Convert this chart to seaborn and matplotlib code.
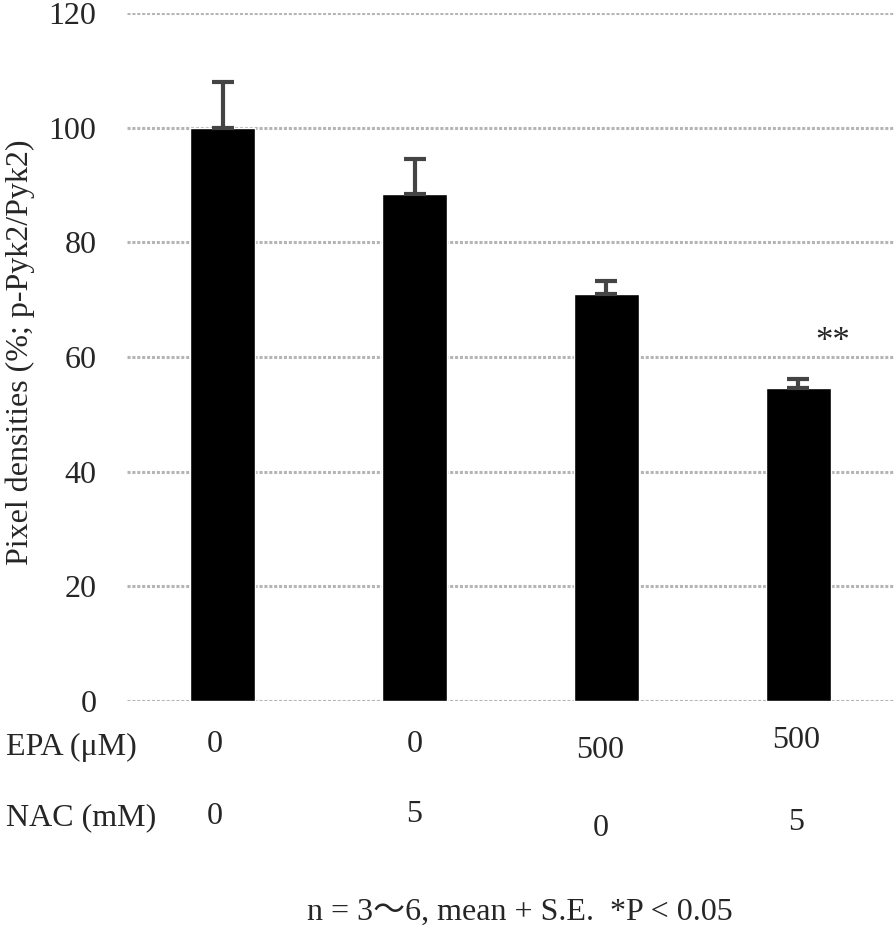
import matplotlib
matplotlib.use("Agg")
import matplotlib.pyplot as plt
import matplotlib.transforms as mtransforms
import seaborn as sns
import pandas as pd

groups = ["G1", "G2", "G3", "G4"]
means = [100.0, 88.5, 71.0, 54.6]
errors = [8.0, 6.1, 2.2, 1.6]
epa_labels = ["0", "0", "500", "500"]
nac_labels = ["0", "5", "0", "5"]
yticks = [0, 20, 40, 60, 80, 100, 120]

sns.set_style("white")
plt.rcParams["font.family"] = ["Liberation Serif", "DejaVu Serif"]
FS = 23

W, H = 894, 932
fig = plt.figure(figsize=(W / 100, H / 100), dpi=100)
ax = fig.add_axes([127 / W, (H - 701) / H, (894 - 127) / W, 688 / H])

df = pd.DataFrame({"group": groups, "mean": means})
sns.barplot(data=df, x="group", y="mean", color="black", width=0.34,
            errorbar=None, ax=ax, saturation=1, zorder=3)
ax.errorbar(range(len(groups)), means, yerr=[[0] * len(errors), errors],
            fmt="none", ecolor="#444444", elinewidth=3, capsize=8,
            capthick=3, zorder=4)

ax.set_ylim(0, 120)
ax.set_xlim(-0.5, 3.5)
ax.set_yticks(yticks)
ax.set_yticklabels([str(t) for t in yticks], fontsize=FS)
ax.tick_params(axis="y", length=0, pad=22)
ax.set_xticks([])
ax.set_xlabel("")
ax.set_ylabel("")
for t in yticks:
    ax.axhline(t, color="#b5b5b5", lw=2.2, ls=(0, (1, 0.6)), zorder=1)
for s in ax.spines.values():
    s.set_visible(False)

fig.text(20 / W, 1 - 352 / H, "Pixel densities (%; p-Pyk2/Pyk2)", rotation=90,
         ha="center", va="center", fontsize=FS)

ax.text(3.18, 62.5, "**", ha="center", va="center", fontsize=FS + 2)

trans = mtransforms.blended_transform_factory(ax.transData, fig.transFigure)
epa_y = [745, 745, 750, 740]
nac_y = [817, 815, 828, 822]
epa_x = [-0.04, 0.0, -0.03, -0.01]
for i, lab in enumerate(epa_labels):
    ax.text(i + epa_x[i], 1 - epa_y[i] / H, lab, transform=trans,
            ha="center", va="center", fontsize=FS)
for i, lab in enumerate(nac_labels):
    ax.text(i + epa_x[i], 1 - nac_y[i] / H, lab, transform=trans,
            ha="center", va="center", fontsize=FS)
fig.text(6 / W, 1 - 747 / H, "EPA (μM)", ha="left", va="center", fontsize=FS)
fig.text(6 / W, 1 - 818 / H, "NAC (mM)", ha="left", va="center", fontsize=FS)
fig.text(520 / W, 1 - 912 / H, "n = 3\u301c6, mean + S.E.  *P < 0.05",
         ha="center", va="center", fontsize=FS,
         family=["Liberation Serif", "Noto Sans CJK JP", "DejaVu Sans"])

fig.savefig("out.png", dpi=100)
